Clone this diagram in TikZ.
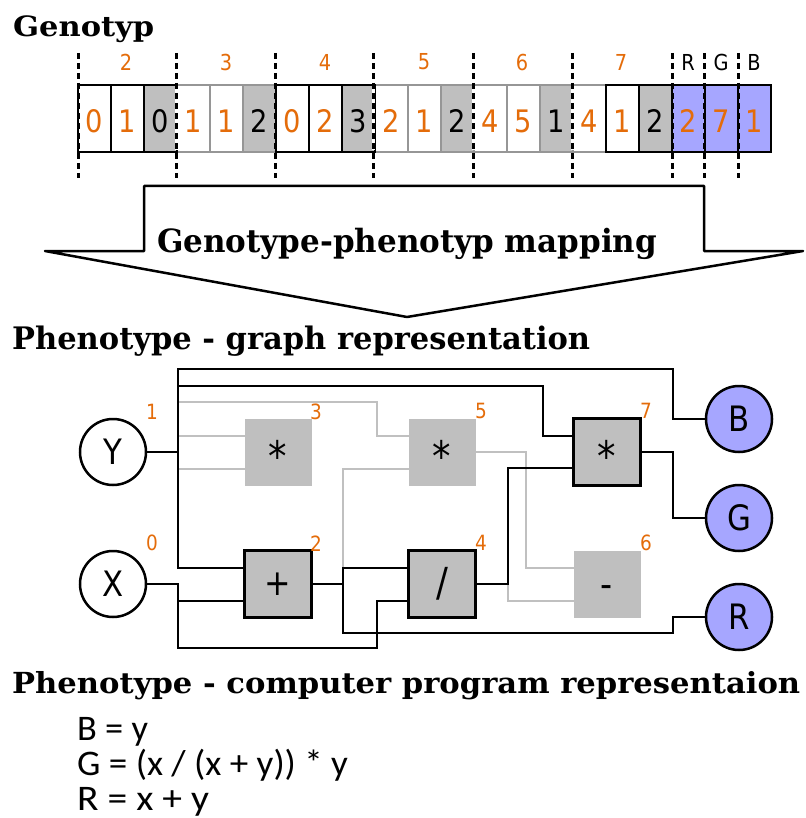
\documentclass[tikz,border=0pt]{standalone}
\usepackage{fontspec}
\usepackage{graphicx}
\setmainfont{DejaVu Serif}[BoldFont={DejaVu Serif Bold}]
\newfontfamily\tah[FakeStretch=0.88]{DejaVu Sans}
\newfontfamily\calfont{Carlito}
\usetikzlibrary{calc}
\definecolor{org}{RGB}{228,108,10}
\definecolor{gbox}{RGB}{191,191,191}
\definecolor{gwire}{RGB}{192,192,192}
\definecolor{gborder}{RGB}{150,150,150}
\definecolor{outblue}{RGB}{166,166,255}
\begin{document}
\begin{tikzpicture}[x=1pt,y=-1pt,
  hdr/.style={anchor=base west, inner sep=0pt, font=\fontsize{#1}{#1}\selectfont\bfseries},
  cell/.style={minimum width=33pt, minimum height=67pt, inner sep=0pt, line width=2.5pt,
    text height=29pt, text depth=0pt, font=\tah\fontsize{31}{31}\selectfont},
  conn/.style={cell, fill=white, text=org},
  func/.style={cell, fill=gbox, text=black},
  outg/.style={cell, fill=outblue, text=org},
  act/.style={draw=black},
  inact/.style={draw=gborder},
  glab/.style={inner sep=0pt, font=\tah\fontsize{22}{22}\selectfont, text=org},
  glabk/.style={glab, text=black},
  gdash/.style={line width=3pt, dash pattern=on 6pt off 4pt},
  inp/.style={circle, draw=black, line width=2.5pt, fill=white, minimum size=66pt, inner sep=0pt,
    font=\tah\fontsize{35}{35}\selectfont},
  outp/.style={inp, fill=outblue},
  fnact/.style={rectangle, draw=black, line width=2.5pt, fill=gbox, minimum size=67pt, inner sep=0pt,
    font=\tah\fontsize{36}{36}\selectfont},
  fninact/.style={fnact, draw=none},
  star/.style={font=\tah\fontsize{42}{42}\selectfont, text height=38pt, text depth=0pt},
  slash/.style={font=\tah\fontsize{40}{40}\selectfont},
  minus/.style={font=\tah\fontsize{38}{38}\selectfont, text height=26pt, text depth=0pt},
  olab/.style={inner sep=0pt, font=\tah\fontsize{21}{21}\selectfont, text=org},
  wire/.style={line width=2.5pt, black, line cap=rect},
  gw/.style={line width=2.5pt, gwire, line cap=rect},
  code/.style={anchor=base west, inner sep=0pt, font=\calfont\fontsize{36}{36}\selectfont}
]
\useasboundingbox (0,0) rectangle (805,818);

% ---------- Genotype ----------
\node[hdr=28] (hgen) at (13,37) {\resizebox{141pt}{\height}{Genotyp}};

% inactive cells
\node[conn,inact] (g4)  at (78+3*33+16.5,118.5) {1};
\node[conn,inact] (g5)  at (78+4*33+16.5,118.5) {1};
\node[func,inact] (g6)  at (78+5*33+16.5,118.5) {2};
\node[conn,inact] (g10) at (78+9*33+16.5,118.5) {2};
\node[conn,inact] (g11) at (78+10*33+16.5,118.5) {1};
\node[func,inact] (g12) at (78+11*33+16.5,118.5) {2};
\node[conn,inact] (g13) at (78+12*33+16.5,118.5) {4};
\node[conn,inact] (g14) at (78+13*33+16.5,118.5) {5};
\node[func,inact] (g15) at (78+14*33+16.5,118.5) {1};
\node[conn,inact] (g16) at (78+15*33+16.5,118.5) {4};
% active cells
\node[conn,act] (g1)  at (78+0*33+16.5,118.5) {0};
\node[conn,act] (g2)  at (78+1*33+16.5,118.5) {1};
\node[func,act] (g3)  at (78+2*33+16.5,118.5) {0};
\node[conn,act] (g7)  at (78+6*33+16.5,118.5) {0};
\node[conn,act] (g8)  at (78+7*33+16.5,118.5) {2};
\node[func,act] (g9)  at (78+8*33+16.5,118.5) {3};
\node[conn,act] (g17) at (78+16*33+16.5,118.5) {1};
\node[func,act] (g18) at (78+17*33+16.5,118.5) {2};
\node[outg,act] (g19) at (78+18*33+16.5,118.5) {2};
\node[outg,act] (g20) at (78+19*33+16.5,118.5) {7};
\node[outg,act] (g21) at (78+20*33+16.5,118.5) {1};

% dotted group boundaries
\foreach \xx in {176,373,473,572} {
  \draw[white, line width=3pt] (\xx,87) -- (\xx,150);
}
\foreach \xx in {78,176,275,373,473,572,672,704,738} {
  \draw[gdash] (\xx,53) -- (\xx,178);
}

% group labels
\node[glab] (lg2) at (126,62) {2};
\node[glab] (lg3) at (226,62) {3};
\node[glab] (lg4) at (325,62) {4};
\node[glab] (lg5) at (424,62) {5};
\node[glab] (lg6) at (522,62) {6};
\node[glab] (lg7) at (621,62) {7};
\node[glabk] (lgR) at (688,62) {R};
\node[glabk] (lgG) at (721,62) {G};
\node[glabk] (lgB) at (754,62) {B};

% ---------- mapping arrow ----------
\draw[line width=2.5pt, fill=white, line join=round]
  (45,251) -- (144,251) -- (144,186) -- (704,186) -- (704,251) -- (803,251) -- (407,317) -- cycle;
\node[hdr=32] (hmap) at (157,252) {\resizebox{500pt}{\height}{Genotype-phenotyp mapping}};

% ---------- graph ----------
\node[hdr=31] (hgraph) at (12,349) {\resizebox{578pt}{\height}{Phenotype - graph representation}};

\node[inp] (Y) at (113,452) {Y};
\node[inp] (X) at (113,584) {X};
\node[outp] (B) at (739,419) {B};
\node[outp] (G) at (739,518) {G};
\node[outp] (R) at (739,617) {R};
\node[fninact,star] (n3) at (278,452) {*};
\node[fnact]   (n2) at (278,584) {+};
\node[fninact,star] (n5) at (442,452) {*};
\node[fnact,slash]   (n4) at (442,584) {/};
\node[fnact,star]   (n7) at (607,452) {*};
\node[fninact,minus] (n6) at (607,584) {-};

\coordinate (busB) at (178,369);
\coordinate (bus7) at (178,386);
\coordinate (bus5) at (178,402);
\coordinate (bus3a) at (178,436);
\coordinate (bus3b) at (178,469);
\coordinate (busX) at (178,601);
\coordinate (add) at (343,584);
\coordinate (divo) at (508,584);

% inactive wires
\draw[gw] (bus5) -- (377,402) -- (377,436) -- ($(n5.west)+(0,-16)$);
\draw[gw] (bus3a) -- ($(n3.west)+(0,-16)$);
\draw[gw] (bus3b) -- ($(n3.west)+(0,17)$);
\draw[gw] (add) -- (343,469) -- ($(n5.west)+(0,17)$);
\draw[gw] (n5.east) -- (526,452) -- (526,568) -- ($(n6.west)+(0,-16)$);
\draw[gw] (divo) -- (508,601) -- ($(n6.west)+(0,17)$);

% active wires
\draw[wire] (Y.east) -- (178,452);
\draw[wire] (B.west) -- (673,419) -- (673,369) -- (busB) -- (178,568) -- ($(n2.west)+(0,-16)$);
\draw[wire] (bus7) -- (543,386) -- (543,436) -- ($(n7.west)+(0,-16)$);
\draw[wire] (X.east) -- (178,584) -- (178,648) -- (377,648) -- (377,601) -- ($(n4.west)+(0,17)$);
\draw[wire] (busX) -- ($(n2.west)+(0,17)$);
\draw[wire] (n2.east) -- (add);
\draw[wire] ($(n4.west)+(0,-16)$) -- (343,568) -- (343,633) -- (673,633) -- (673,617) -- (R.west);
\draw[wire] (n4.east) -- (divo) -- (508,468) -- ($(n7.west)+(0,16)$);
\draw[wire] (n7.east) -- (673,452) -- (673,518) -- (G.west);

% node index labels
\node[olab] (l1) at (152,412) {1};
\node[olab] (l0) at (152,543) {0};
\node[olab] (l3) at (316,412) {3};
\node[olab] (l2) at (316,544) {2};
\node[olab] (l5) at (481,411) {5};
\node[olab] (l4) at (481,543) {4};
\node[olab] (l7) at (646,411) {7};
\node[olab] (l6) at (646,543) {6};

% ---------- program ----------
\node[hdr=29] (hprog) at (12,693) {\resizebox{788pt}{\height}{Phenotype - computer program representaion}};
\node[code] (cB) at (77,740) {\scalebox{1.01}[1]{B = y}};
\node[code] (cG) at (77,775) {\scalebox{1.03}[1]{G = (x / (x + y)) * y}};
\node[code] (cR) at (77,810) {\scalebox{1.1}[1]{R = x + y}};
\end{tikzpicture}
\end{document}
